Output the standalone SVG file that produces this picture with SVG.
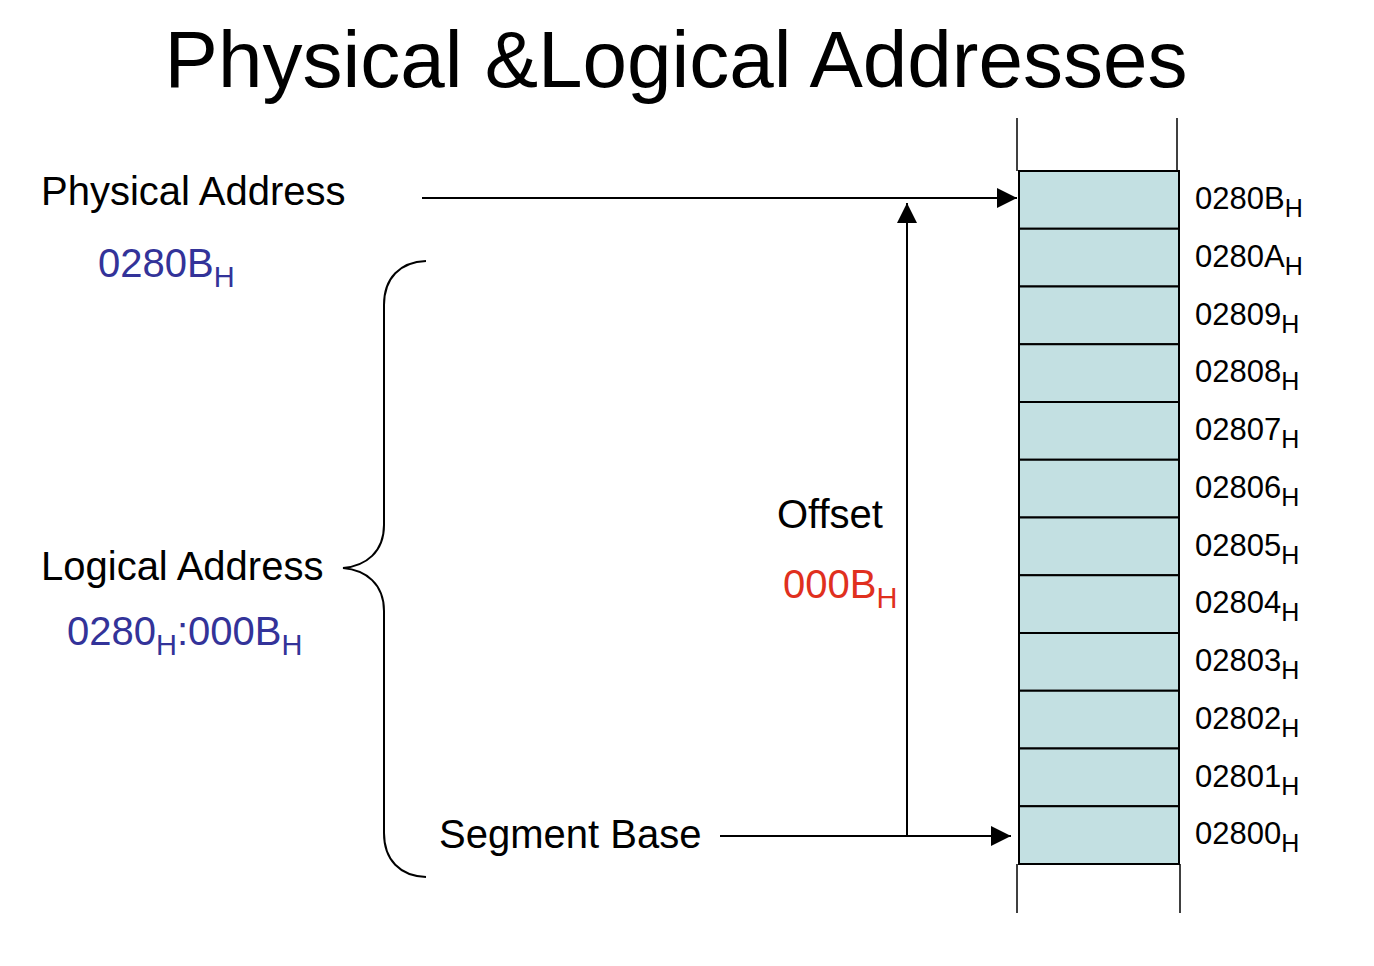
<svg xmlns="http://www.w3.org/2000/svg" width="1374" height="966" viewBox="0 0 1374 966">
<defs>
<style>
text{font-family:"Liberation Sans",Arial,sans-serif;}
.lbl{font-size:40px;fill:#000;}
.blue{font-size:40px;fill:#333399;}
.red{font-size:40px;fill:#e0301e;}
.addr{font-size:31px;fill:#000;}
.sub{font-size:29px;}
.subs{font-size:25px;}
.cell{fill:#c3e0e2;stroke:#000;stroke-width:2;}
.wall{stroke:#000;stroke-width:1.5;fill:none;}
.conn{stroke:#000;stroke-width:2;fill:none;}
</style>
<marker id="ah" viewBox="0 0 10 10" refX="10" refY="5" markerWidth="22" markerHeight="20" markerUnits="userSpaceOnUse" orient="auto">
<path d="M0,0 L10,5 L0,10 Z" fill="#000"/>
</marker>
</defs>
<rect width="1374" height="966" fill="#fff"/>
<text x="676" y="87" font-size="80" text-anchor="middle" fill="#000">Physical &amp;Logical Addresses</text>

<g id="memory">
<line class="wall" x1="1017" y1="118" x2="1017" y2="171"/>
<line class="wall" x1="1177" y1="118" x2="1177" y2="171"/>
<line class="wall" x1="1017" y1="864" x2="1017" y2="913"/>
<line class="wall" x1="1180" y1="864" x2="1180" y2="913"/>
<rect class="cell" x="1019" y="171" width="160" height="57.75"/>
<rect class="cell" x="1019" y="228.75" width="160" height="57.75"/>
<rect class="cell" x="1019" y="286.5" width="160" height="57.75"/>
<rect class="cell" x="1019" y="344.25" width="160" height="57.75"/>
<rect class="cell" x="1019" y="402" width="160" height="57.75"/>
<rect class="cell" x="1019" y="459.75" width="160" height="57.75"/>
<rect class="cell" x="1019" y="517.5" width="160" height="57.75"/>
<rect class="cell" x="1019" y="575.25" width="160" height="57.75"/>
<rect class="cell" x="1019" y="633" width="160" height="57.75"/>
<rect class="cell" x="1019" y="690.75" width="160" height="57.75"/>
<rect class="cell" x="1019" y="748.5" width="160" height="57.75"/>
<rect class="cell" x="1019" y="806.25" width="160" height="57.75"/>
</g>

<g id="addresses" class="addr">
<text x="1195" y="209">0280B<tspan class="subs" dy="8">H</tspan></text>
<text x="1195" y="266.75">0280A<tspan class="subs" dy="8">H</tspan></text>
<text x="1195" y="324.5">02809<tspan class="subs" dy="8">H</tspan></text>
<text x="1195" y="382.25">02808<tspan class="subs" dy="8">H</tspan></text>
<text x="1195" y="440">02807<tspan class="subs" dy="8">H</tspan></text>
<text x="1195" y="497.75">02806<tspan class="subs" dy="8">H</tspan></text>
<text x="1195" y="555.5">02805<tspan class="subs" dy="8">H</tspan></text>
<text x="1195" y="613.25">02804<tspan class="subs" dy="8">H</tspan></text>
<text x="1195" y="671">02803<tspan class="subs" dy="8">H</tspan></text>
<text x="1195" y="728.75">02802<tspan class="subs" dy="8">H</tspan></text>
<text x="1195" y="786.5">02801<tspan class="subs" dy="8">H</tspan></text>
<text x="1195" y="844.25">02800<tspan class="subs" dy="8">H</tspan></text>
</g>

<g id="physical">
<text class="lbl" x="41" y="205">Physical Address</text>
<text class="blue" x="98" y="277">0280B<tspan class="sub" dy="10">H</tspan></text>
</g>

<g id="logical">
<text class="lbl" x="41" y="580">Logical Address</text>
<text class="blue" x="67" y="645">0280<tspan class="sub" dy="10">H</tspan><tspan dy="-10">:000B</tspan><tspan class="sub" dy="10">H</tspan></text>
</g>

<g id="offset">
<text class="lbl" x="777" y="528">Offset</text>
<text class="red" x="783" y="598">000B<tspan class="sub" dy="10">H</tspan></text>
</g>

<g id="segment">
<text class="lbl" x="439" y="848">Segment Base</text>
</g>

<g id="connectors">
<line class="conn" x1="422" y1="198" x2="1017" y2="198" marker-end="url(#ah)"/>
<line class="conn" x1="907" y1="836" x2="907" y2="203" marker-end="url(#ah)"/>
<line class="conn" x1="720" y1="836" x2="1011" y2="836" marker-end="url(#ah)"/>
<path class="conn" d="M426,261 C400,262 384,278 384,305 L384,525 C384,552 366,566 343,568 C366,570 384,584 384,611 L384,833 C384,860 400,876 426,877"/>
</g>
</svg>
